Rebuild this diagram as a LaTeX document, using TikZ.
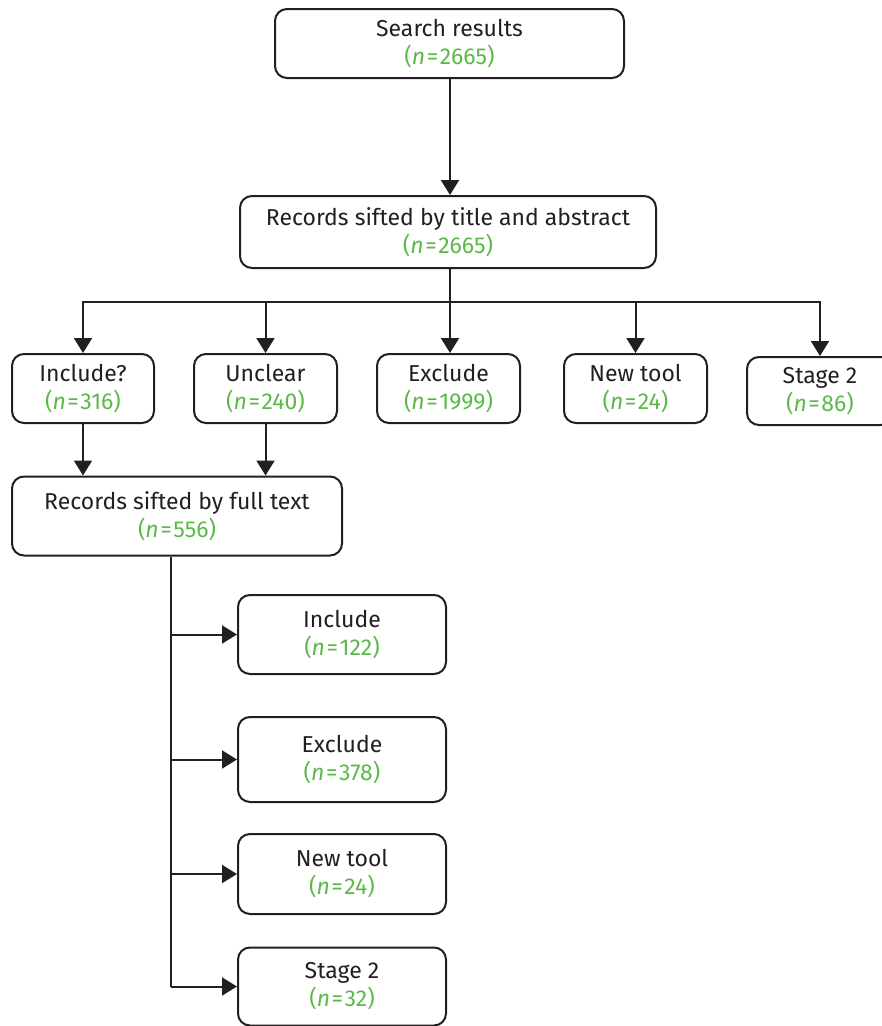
\documentclass[tikz,border=0pt]{standalone}
\usepackage{fontspec}
\setmainfont{Fira Sans}
\usetikzlibrary{arrows.meta}
\definecolor{ngreen}{RGB}{92,184,72}
\definecolor{ink}{RGB}{35,31,32}
\newcommand{\nn}[1]{{\color{ngreen}(\textit{n}\kern1.5pt=\kern1.5pt#1)}}
\tikzset{
  box/.style={draw=ink, line width=2pt, rounded corners=12pt, align=center,
    inner sep=0pt, text=ink, font=\fontsize{23}{28}\selectfont},
  arr/.style={draw=ink, line width=2pt, -{Triangle[length=15pt,width=18pt]}},
  ln/.style={draw=ink, line width=2pt}
}
\begin{document}
\begin{tikzpicture}[x=1pt,y=-1pt]
\useasboundingbox (0,0) rectangle (882,1026);
\node[box, minimum width=349pt, minimum height=69pt] (search) at (449.5,43.5) {Search results\\\nn{2665}};
\node[box, minimum width=416pt, minimum height=72pt] (title) at (448,232) {Records sifted by title and abstract\\\nn{2665}};
\node[box, minimum width=142pt, minimum height=69pt] (inc) at (83,388.5) {Include?\\\nn{316}};
\node[box, minimum width=143pt, minimum height=69pt] (unc) at (265.5,388.5) {Unclear\\\nn{240}};
\node[box, minimum width=143pt, minimum height=69pt] (exc) at (448.5,388.5) {Exclude\\\nn{1999}};
\node[box, minimum width=143pt, minimum height=69pt] (new) at (635.5,388.5) {New tool\\\nn{24}};
\node[box, minimum width=146pt, minimum height=68pt] (st) at (820,391) {Stage 2\\\nn{86}};
\node[box, minimum width=330pt, minimum height=79pt] (full) at (177,516) {Records sifted by full text\\\nn{556}};
\node[box, minimum width=208pt, minimum height=79pt] (inc2) at (342,634.5) {Include\\\nn{122}};
\node[box, minimum width=208pt, minimum height=85pt] (exc2) at (342,759.5) {Exclude\\\nn{378}};
\node[box, minimum width=208pt, minimum height=80pt] (new2) at (342,874) {New tool\\\nn{24}};
\node[box, minimum width=208pt, minimum height=78pt] (st2) at (342,986.5) {Stage 2\\\nn{32}};
\coordinate (b) at (450,302);
\coordinate (tb) at (171,983);
\draw[arr] (search.south -| b) -- (title.north -| b);
\draw[ln] (title.south -| b) -- (b);
\draw[arr] (b) -| (inc.north);
\draw[arr] (b) -| (unc.north);
\draw[arr] (b) -- (exc.north -| b);
\draw[arr] (b) -| (new.north);
\draw[arr] (b) -| (st.north);
\draw[arr] (inc.south) -- (inc.south |- full.north);
\draw[arr] (unc.south) -- (unc.south |- full.north);
\draw[ln] (full.south -| tb) -- (tb |- st2.west);
\draw[arr] (tb |- inc2.west) -- (inc2.west);
\draw[arr] (tb |- exc2.west) -- (exc2.west);
\draw[arr] (tb |- new2.west) -- (new2.west);
\draw[arr] (tb |- st2.west) -- (st2.west);
\end{tikzpicture}
\end{document}
